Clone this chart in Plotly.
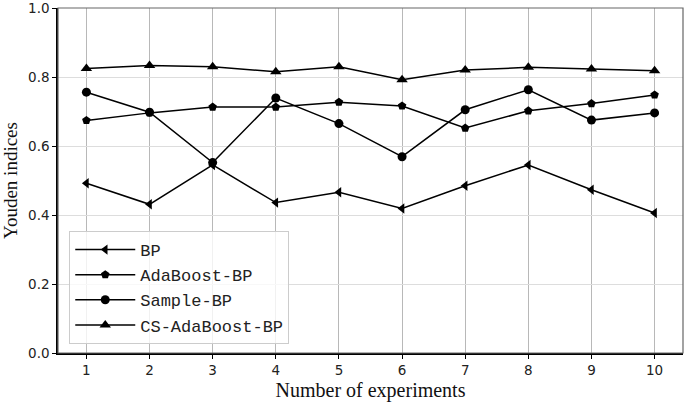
import plotly.graph_objects as go

experiments = [1, 2, 3, 4, 5, 6, 7, 8, 9, 10]
bp = [0.492, 0.431, 0.545, 0.436, 0.466, 0.419, 0.485, 0.545, 0.473, 0.406]
adaboost_bp = [0.674, 0.696, 0.713, 0.713, 0.727, 0.716, 0.652, 0.702, 0.723, 0.748]
sample_bp = [0.756, 0.698, 0.552, 0.739, 0.665, 0.569, 0.705, 0.763, 0.675, 0.696]
cs_adaboost_bp = [0.825, 0.833, 0.830, 0.815, 0.830, 0.792, 0.820, 0.828, 0.823, 0.818]

series = [
    ("BP", bp, "triangle-left", 9),
    ("AdaBoost-BP", adaboost_bp, "pentagon", 9),
    ("Sample-BP", sample_bp, "circle", 9),
    ("CS-AdaBoost-BP", cs_adaboost_bp, "triangle-up", 10),
]

fig = go.Figure()
for name, vals, sym, sz in series:
    fig.add_trace(go.Scatter(
        x=experiments, y=vals, name=name, mode="lines+markers",
        line=dict(color="black", width=1.5),
        marker=dict(symbol=sym, size=sz, color="black"),
    ))

fig.update_layout(
    width=685, height=403,
    margin=dict(l=58, r=2, t=8, b=50),
    plot_bgcolor="white", paper_bgcolor="white",
    showlegend=True,
    legend=dict(
        x=0.018, y=0.026, xanchor="left", yanchor="bottom",
        bgcolor="rgba(255,255,255,0.8)", bordercolor="#cccccc", borderwidth=1,
        font=dict(family="Liberation Mono", size=17, color="#222"),
        tracegroupgap=0, itemwidth=60,
    ),
    font=dict(family="DejaVu Sans", size=13.5, color="#222"),
    shapes=[dict(type="rect", xref="paper", yref="paper", x0=0, y0=0, x1=1, y1=1,
                 line=dict(color="#666", width=1.2), layer="above")],
)
fig.update_xaxes(
    range=[0.55, 10.45], tickmode="array", tickvals=experiments,
    ticktext=[str(v) for v in experiments], automargin=False,
    showgrid=True, gridcolor="#b8b8b8", gridwidth=1,
    showline=True, linecolor="black", linewidth=1.5,
    ticks="outside", ticklen=4, tickcolor="black", zeroline=False,
    title=dict(text="Number of experiments", font=dict(family="Liberation Serif", size=20, color="#111"), standoff=6),
)
fig.update_yaxes(
    range=[0, 1.0], tickmode="array", tickvals=[0, 0.2, 0.4, 0.6, 0.8, 1.0],
    ticktext=["0.0", "0.2", "0.4", "0.6", "0.8", "1.0"], automargin=False,
    showgrid=True, gridcolor="#dddddd", gridwidth=1,
    showline=True, linecolor="black", linewidth=1.5,
    ticks="outside", ticklen=4, tickcolor="black", zeroline=False,
    ticklabeloverflow="allow",
    title=dict(text="Youden indices", font=dict(family="Liberation Serif", size=19, color="#111"), standoff=8),
)

fig.write_html("out.html", config={"displayModeBar": False},
               post_script="document.body.style.margin='0';document.body.style.overflow='hidden';")
